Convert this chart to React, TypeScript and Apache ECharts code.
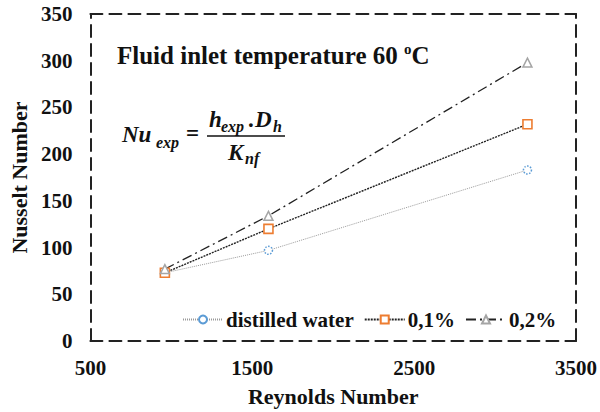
import React, { useEffect, useRef } from "react";
import * as echarts from "echarts";

const reynolds = [960, 1600, 3200];
const water = [73, 97, 183];
const pct01 = [73, 120, 232];
const pct02 = [77, 134, 298];
const seriesNames = ["distilled water", "0,1%", "0,2%"];
const xTicks = { min: 500, max: 3500, interval: 1000 };
const yTicks = { min: 0, max: 350, interval: 50 };

const SERIF = "Liberation Serif";

export default function App() {
  const ref = useRef<HTMLDivElement>(null);
  useEffect(() => {
    if (!ref.current) return;
    document.body.style.margin = "0";
    const chart = echarts.init(ref.current, undefined, { renderer: "svg" });
    const pts = (ys: number[]) => reynolds.map((x, i) => [x, ys[i]]);
    const dashBorder = { color: "#222", width: 2, type: [12, 7] as any };
    const labelStyle = { color: "#111", fontFamily: SERIF, fontWeight: "bold" as const, fontSize: 21 };
    const plain = (v: number) => String(v);
    const math = (t: string, x: number, y: number, size: number) => ({
      type: "text",
      x,
      y,
      style: { text: t, fontFamily: SERIF, fontStyle: "italic", fontWeight: "bold", fontSize: size, fill: "#111", verticalAlign: "middle" },
    });
    chart.setOption({
      animation: false,
      backgroundColor: "#fff",
      grid: { left: 87, right: 23, top: 14, bottom: 67 },
      xAxis: [
        {
          type: "value",
          ...xTicks,
          name: "Reynolds Number",
          nameLocation: "middle",
          nameGap: 44,
          nameTextStyle: { ...labelStyle, fontSize: 22 },
          axisLine: { show: true, onZero: false, lineStyle: dashBorder },
          axisTick: { show: false },
          splitLine: { show: false },
          axisLabel: { ...labelStyle, margin: 16, formatter: plain },
        },
        {
          type: "value",
          position: "top",
          ...xTicks,
          axisLine: { show: true, onZero: false, lineStyle: dashBorder },
          axisTick: { show: false },
          splitLine: { show: false },
          axisLabel: { show: false },
        },
      ],
      yAxis: [
        {
          type: "value",
          ...yTicks,
          name: "Nusselt Number",
          nameLocation: "middle",
          nameGap: 54,
          nameTextStyle: { ...labelStyle, fontSize: 22 },
          axisLine: { show: true, onZero: false, lineStyle: dashBorder },
          axisTick: { show: false },
          splitLine: { show: false },
          axisLabel: { ...labelStyle, margin: 18, formatter: plain },
        },
        {
          type: "value",
          position: "right",
          ...yTicks,
          axisLine: { show: true, onZero: false, lineStyle: dashBorder },
          axisTick: { show: false },
          splitLine: { show: false },
          axisLabel: { show: false },
        },
      ],
      legend: {
        left: 177,
        top: 304,
        itemGap: 10,
        itemWidth: 40,
        itemHeight: 10,
        textStyle: { ...labelStyle, fontSize: 21, padding: [0, 0, 0, -2] },
        data: seriesNames,
      },
      series: [
        {
          name: seriesNames[0],
          type: "line",
          data: pts(water),
          symbol: "circle",
          symbolSize: 8,
          itemStyle: { color: "#fff", borderColor: "#5b9bd5", borderWidth: 1.5, borderType: "dotted" },
          lineStyle: { color: "#9a9a9a", width: 1, type: [1, 1] },
        },
        {
          name: seriesNames[1],
          type: "line",
          data: pts(pct01),
          symbol: "rect",
          symbolSize: 9,
          itemStyle: { color: "#fff", borderColor: "#ed7d31", borderWidth: 1.6 },
          lineStyle: { color: "#222", width: 1.4, type: [2, 1] },
        },
        {
          name: seriesNames[2],
          type: "line",
          data: pts(pct02),
          symbol: "triangle",
          symbolSize: 9,
          itemStyle: { color: "#fff", borderColor: "#a5a5a5", borderWidth: 1.5 },
          lineStyle: { color: "#222", width: 1.3, type: [10, 4, 2, 4] },
        },
      ],
      graphic: [
        {
          type: "text",
          x: 117,
          y: 55,
          style: {
            text: "{t|Fluid inlet temperature 60 }{s|o}{t|C}",
            verticalAlign: "middle",
            rich: {
              t: { fontFamily: SERIF, fontWeight: "bold", fontSize: 25, fill: "#111", lineHeight: 27 },
              s: { fontFamily: SERIF, fontWeight: "bold", fontSize: 15, fill: "#111", lineHeight: 27, verticalAlign: "top" },
            },
          },
        },
        math("Nu", 122, 134, 23),
        math("exp", 156, 142, 16),
        { type: "text", x: 186, y: 133, style: { text: "=", fontFamily: SERIF, fontWeight: "bold", fontSize: 23, fill: "#111", verticalAlign: "middle" } },
        { type: "line", shape: { x1: 207, y1: 136, x2: 285, y2: 136 }, style: { stroke: "#111", lineWidth: 1.3 } },
        math("h", 209, 119, 23),
        math("exp", 221, 126, 16),
        { type: "text", x: 248, y: 119, style: { text: ".", fontFamily: SERIF, fontWeight: "bold", fontSize: 23, fill: "#111", verticalAlign: "middle" } },
        math("D", 255, 119, 23),
        math("h", 273, 126, 16),
        math("K", 228, 152, 23),
        math("nf", 245, 158, 16),
      ],
    });
    return () => chart.dispose();
  }, []);
  return <div ref={ref} style={{ width: 600, height: 412 }} />;
}
